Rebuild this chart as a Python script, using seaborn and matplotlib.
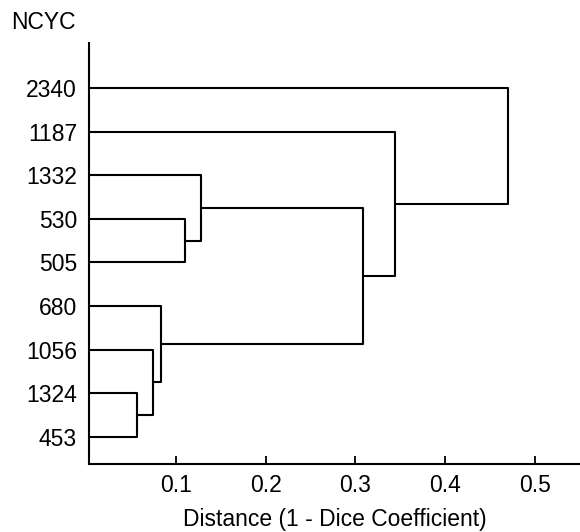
import pandas as pd
import matplotlib
matplotlib.use("Agg")
import matplotlib.pyplot as plt
import seaborn as sns

# ============================================================
# 데이터: 잎 순서(아래→위)와 병합 높이
# ============================================================

leaves = ["453", "1324", "1056", "680", "505", "530", "1332", "1187", "2340"]

# (왼쪽 자식, 오른쪽 자식, 거리) ; 자식은 잎 이름 또는 이전 병합 번호 "m0", "m1"...
merge_left = ["453", "m0", "m1", "505", "m3", "m2", "m5", "m6"]
merge_right = ["1324", "1056", "680", "530", "1332", "m4", "1187", "2340"]
merge_height = [0.057, 0.075, 0.083, 0.110, 0.128, 0.308, 0.344, 0.470]

# ============================================================
# 덴드로그램 선분 계산
# ============================================================

pos = {name: i + 1 for i, name in enumerate(leaves)}
hgt = {name: 0.0 for name in leaves}

rows = []
for k, (a, b, h) in enumerate(zip(merge_left, merge_right, merge_height)):
    pts = [(hgt[a], pos[a]), (h, pos[a]), (h, pos[b]), (hgt[b], pos[b])]
    for order, (x, y) in enumerate(pts):
        rows.append({"seg": k, "order": order, "x": x, "y": y})
    name = f"m{k}"
    pos[name] = (pos[a] + pos[b]) / 2
    hgt[name] = h

seg_df = pd.DataFrame(rows)

# ============================================================
# 그리기
# ============================================================

sns.set_style("ticks")
plt.rcParams["font.family"] = ["Liberation Sans", "DejaVu Sans"]
plt.rcParams["text.color"] = "black"

fs = 16.5

fig = plt.figure(figsize=(5.8, 5.32), dpi=100)
ax = fig.add_axes([0.153, 0.128, 0.847, 0.791])

sns.lineplot(
    data=seg_df, x="x", y="y", units="seg", estimator=None, sort=False,
    color="black", linewidth=1.5, ax=ax
)

ax.set_xlim(0.003, 0.55)
ax.set_ylim(0.38, 10.03)

ax.set_xticks([0.1, 0.2, 0.3, 0.4, 0.5])
ax.set_xticklabels(["0.1", "0.2", "0.3", "0.4", "0.5"])
ax.set_yticks(range(1, len(leaves) + 1))
ax.set_yticklabels(leaves)

ax.tick_params(axis="x", direction="in", length=6, width=1.3, labelsize=fs, pad=7, colors="black")
ax.tick_params(axis="y", length=0, labelsize=fs, pad=8.5, colors="black")

for side in ["top", "right"]:
    ax.spines[side].set_visible(False)
for side in ["left", "bottom"]:
    ax.spines[side].set_linewidth(1.5)
    ax.spines[side].set_color("black")

ax.set_xlabel("Distance (1 - Dice Coefficient)", fontsize=fs, labelpad=8, color="black")
ax.set_ylabel("")

fig.text(0.02, 0.957, "NCYC", fontsize=fs, ha="left", va="center", color="black")

fig.savefig("out.png", dpi=100)
